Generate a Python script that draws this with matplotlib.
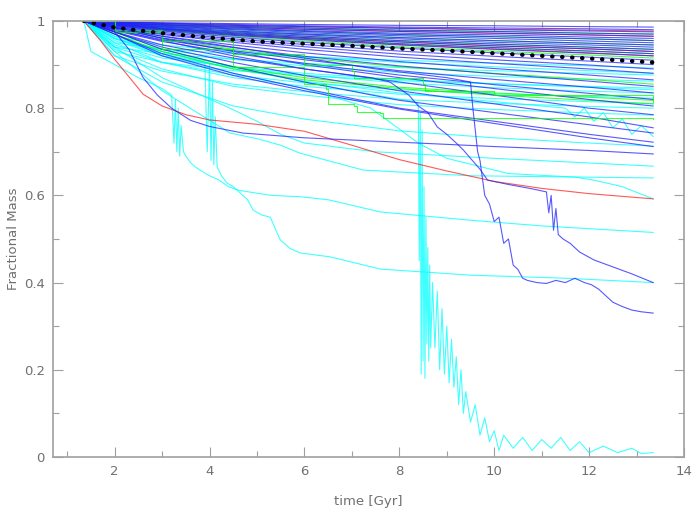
"""Fractional mass of satellites vs time: recreated line chart."""

import matplotlib

matplotlib.use("Agg")
import matplotlib.pyplot as plt
from matplotlib.ticker import MultipleLocator, FormatStrFormatter


# common coarse time grid for the bundle lines (Gyr)
T_GRID = [1.35, 2.0, 3.0, 4.5, 6.0, 8.0, 10.0, 12.0, 13.35]

BLUE_ROWS = [
    [1, .998, .996, .994, .992, .990, .989, .987, .986],
    [1, .998, .995, .992, .989, .986, .984, .982, .980],
    [1, .997, .994, .990, .987, .983, .980, .977, .975],
    [1, .996, .992, .988, .984, .979, .976, .972, .970],
    [1, .996, .991, .986, .981, .976, .972, .968, .965],
    [1, .995, .990, .984, .978, .972, .968, .963, .960],
    [1, .995, .988, .982, .976, .969, .964, .959, .955],
    [1, .994, .987, .980, .973, .966, .960, .954, .950],
    [1, .993, .986, .977, .970, .962, .955, .949, .945],
    [1, .993, .984, .975, .968, .959, .951, .945, .940],
    [1, .992, .983, .973, .965, .955, .947, .940, .935],
    [1, .992, .982, .971, .962, .952, .943, .936, .930],
    [1, .991, .981, .969, .960, .948, .939, .931, .925],
    [1, .990, .979, .967, .957, .945, .935, .926, .920],
    [1, .989, .977, .963, .951, .938, .927, .917, .910],
    [1, .988, .974, .959, .946, .931, .919, .908, .900],
    [1, .987, .971, .955, .941, .924, .911, .899, .890],
    [1, .986, .969, .951, .935, .917, .903, .890, .880],
    [1, .984, .965, .945, .927, .907, .891, .876, .865],
    [1, .982, .961, .939, .919, .897, .879, .862, .850],
    [1, .980, .957, .932, .911, .886, .866, .848, .835],
    [1, .978, .953, .926, .903, .876, .854, .834, .820],
    [1, .985, .960, .930, .900, .870, .845, .820, .805],
    [1, .980, .955, .920, .890, .860, .830, .800, .785],
    [1, .975, .940, .905, .875, .840, .810, .780, .755],
    [1, .975, .935, .895, .860, .818, .790, .762, .743],
    [1, .970, .925, .880, .845, .800, .770, .740, .722],
    [1, .970, .920, .875, .840, .798, .765, .732, .712],
]

GREEN_ROWS = [
    [1, .996, .992, .988, .984, .979, .976, .972, .970],
    [1, .995, .989, .982, .976, .969, .964, .959, .955],
    [1, .993, .986, .977, .970, .962, .955, .949, .945],
    [1, .992, .983, .973, .965, .955, .947, .940, .935],
    [1, .991, .981, .969, .960, .948, .939, .931, .925],
    [1, .990, .978, .965, .954, .941, .931, .922, .915],
    [1, .985, .960, .935, .915, .895, .880, .866, .855],
    [1, .975, .935, .895, .870, .848, .835, .825, .818],
    [1, .970, .930, .890, .865, .845, .830, .818, .810],
]

RED_ROWS = [
    [1, .997, .994, .990, .987, .984, .981, .979, .977],
    [1, .996, .991, .986, .981, .976, .972, .968, .965],
    [1, .992, .982, .971, .962, .952, .943, .936, .930],
    [1, .991, .980, .968, .958, .946, .936, .927, .920],
]

CYAN_ROWS = [
    [1, .950, .935, .925, .918, .910, .903, .897, .892],
    [1, .940, .925, .912, .903, .893, .886, .880, .876],
    [1, .960, .935, .912, .897, .882, .873, .866, .862],
    [1, .930, .905, .886, .875, .863, .856, .850, .846],
    [1, .955, .920, .893, .876, .858, .847, .839, .835],
    [1, .940, .905, .876, .858, .842, .833, .827, .823],
    [1, .950, .905, .870, .850, .832, .822, .815, .810],
    [1, .920, .885, .855, .838, .820, .811, .804, .800],
    [1, .935, .890, .850, .830, .808, .797, .789, .784],
    [1, .920, .860, .805, .775, .748, .732, .720, .713],
    [1, .965, .945, .930, .918, .905, .895, .886, .880],
    [1, .945, .915, .895, .880, .866, .856, .848, .842],
]

# individual lines
CYAN_667_T = [1.35, 2.0, 3.0, 4.43, 5.0, 5.5, 6.0, 7.5, 10.0, 13.35]
CYAN_667_Y = [1, .94, .87, .80, .77, .74, .72, .70, .685, .667]

CYAN_640_T = [1.35, 2.0, 3.0, 4.43, 5.0, 5.5, 5.9, 7.24, 9.5, 13.35]
CYAN_640_Y = [1, .93, .84, .743, .73, .715, .697, .658, .645, .640]

CYAN_592_T = [1.35, 2.0, 3.0, 4.5, 6.0, 7.4, 8.4, 9.0, 10.3, 11.7, 12.1, 12.7, 13.35]
CYAN_592_Y = [1, .96, .92, .88, .845, .80, .72, .685, .65, .642, .635, .62, .592]

CYAN_NOISY_T = [1.35, 2.0, 3.0, 4.5, 6.0, 8.0, 10.0, 11.5, 11.7, 11.9, 12.1,
                12.3, 12.5, 12.7, 12.9, 13.1, 13.35]
CYAN_NOISY_Y = [1, .96, .925, .89, .862, .835, .815, .80, .78, .80, .77,
                .79, .755, .775, .74, .76, .735]

CYAN_A_T = [1.35, 1.5, 2.0, 2.5, 3.0, 3.2, 3.25, 3.28, 3.31, 3.34, 3.37, 3.4,
            3.45, 3.5, 3.6, 3.7, 3.8, 4.0, 4.2, 4.4, 4.6, 5.0, 5.3, 5.9, 6.5,
            7.6, 9.5, 11.0, 13.35]
CYAN_A_Y = [1, .93, .90, .87, .845, .83, .72, .82, .70, .80, .69, .76,
            .70, .69, .675, .665, .658, .645, .635, .62, .612, .605, .60, .597, .59,
            .562, .543, .53, .515]

CYAN_B_T = [1.35, 2.0, 3.0, 3.9, 3.95, 4.0, 4.03, 4.06, 4.09, 4.12, 4.16, 4.25,
            4.37, 4.5, 4.65, 4.8, 4.92, 5.1, 5.28, 5.4, 5.49, 5.7, 5.91, 6.54,
            7.6, 9.5, 11.5, 13.35]
CYAN_B_Y = [1, .96, .93, .905, .70, .90, .68, .86, .67, .78, .665, .645,
            .628, .62, .605, .59, .566, .555, .55, .52, .498, .478, .468, .459,
            .431, .417, .41, .40]

CYAN_C_T = [1.35, 2.0, 3.0, 4.5, 6.0, 7.5, 8.3, 8.4,
            8.42, 8.44, 8.46, 8.48, 8.5, 8.52, 8.54, 8.56, 8.58, 8.6, 8.62, 8.64, 8.66,
            8.7, 8.75, 8.8, 8.85, 8.9, 8.95, 9.0, 9.05, 9.1, 9.15, 9.2, 9.25, 9.3,
            9.35, 9.4, 9.5, 9.6, 9.7, 9.8, 9.9, 10.0, 10.1, 10.2, 10.4, 10.6, 10.8,
            11.0, 11.2, 11.4, 11.6, 11.8, 12.0, 12.3, 12.6, 12.9, 13.1, 13.35]
CYAN_C_Y = [1, .965, .93, .895, .86, .83, .815, .81,
            .45, .79, .19, .75, .22, .62, .18, .55, .26, .48, .22, .44, .25,
            .40, .25, .38, .20, .34, .19, .30, .17, .27, .16, .23, .12, .20,
            .10, .15, .08, .12, .05, .09, .035, .06, .015, .05, .02, .045, .015,
            .04, .02, .045, .015, .035, .01, .025, .01, .02, .008, .01]

BLUE_Q_T = [1.35, 2.0, 3.0, 4.5, 6.0, 7.5, 9.0, 9.5, 9.55, 9.6, 9.65, 9.7, 9.75,
            9.8, 9.9, 10.0, 10.1, 10.2, 10.3, 10.4, 10.5, 10.6, 10.7, 10.9, 11.1,
            11.3, 11.5, 11.7, 11.9, 12.05, 12.2, 12.35, 12.5, 12.7, 12.9, 13.1, 13.35]
BLUE_Q_Y = [1, .985, .965, .94, .915, .89, .87, .86, .80, .75, .70, .68, .64,
            .60, .58, .54, .55, .49, .50, .44, .43, .41, .405, .40, .398,
            .405, .40, .41, .40, .395, .385, .37, .355, .345, .337, .333, .33]

BLUE_P_T = [1.35, 2.0, 3.0, 4.5, 6.0, 7.4, 7.8, 8.0, 8.2, 8.4, 8.6, 8.8, 9.0,
            9.2, 9.35, 9.5, 9.7, 9.86, 10.3, 10.8, 11.1, 11.15, 11.2, 11.25, 11.3,
            11.35, 11.45, 11.6, 11.8, 12.1, 12.5, 12.9, 13.35]
BLUE_P_Y = [1, .975, .945, .915, .89, .87, .86, .845, .83, .805, .79, .757, .74,
            .72, .704, .685, .66, .635, .625, .615, .608, .56, .60, .52, .57,
            .51, .50, .49, .47, .452, .436, .42, .40]

BLUE_MAIN_T = [1.35, 2.0, 2.3, 2.6, 2.9, 3.2, 3.6, 4.0, 4.7, 6.0, 8.0, 10.0, 12.0, 13.35]
BLUE_MAIN_Y = [1, .975, .935, .87, .83, .80, .772, .758, .743, .732, .722, .712, .703, .695]

RED_MAIN_T = [1.35, 1.7, 2.0, 2.3, 2.6, 3.0, 3.5, 4.0, 4.5, 5.0, 6.0, 7.0, 8.0,
              9.0, 10.0, 11.0, 12.0, 13.35]
RED_MAIN_Y = [1, .955, .912, .872, .832, .805, .785, .773, .768, .763, .747, .715,
              .682, .656, .632, .616, .604, .592]

GREEN_STEP_T = [1.35, 2.0, 3.0, 4.5, 6.0, 6.45, 6.5, 7.05, 7.1, 7.6, 7.65, 13.35]
GREEN_STEP_Y = [1, .975, .935, .895, .855, .845, .81, .805, .792, .79, .778, .775]

GREEN_STEP2_T = [1.35, 2.0, 3.0, 4.5, 6.0, 7.0, 7.05, 8.5, 8.55, 10.0, 13.35]
GREEN_STEP2_Y = [1, .98, .955, .925, .90, .885, .87, .855, .84, .83, .815]

MEAN_T = [1.35, 2, 3, 4, 5, 6, 7, 8, 9, 10, 11, 12, 13.35]
MEAN_Y = [1.0, .985, .972, .962, .953, .948, .943, .937, .932, .926, .92, .914, .905]

BLUE = "#2020ff"
CYAN = "#00ffff"
GREEN = "#00ff00"
RED = "#ff2020"
AXIS_GREY = "#a0a0a0"
TEXT_GREY = "#707070"


def main():
    fig = plt.figure(figsize=(6.93, 5.18), dpi=100)
    ax = fig.add_axes([0.0765, 0.1178, 0.9105, 0.8417])
    kw = dict(linewidth=0.8, alpha=0.75)

    for row in CYAN_ROWS:
        ax.plot(T_GRID, row, color=CYAN, **kw)
    for t, y in [(CYAN_667_T, CYAN_667_Y), (CYAN_640_T, CYAN_640_Y),
                 (CYAN_592_T, CYAN_592_Y), (CYAN_NOISY_T, CYAN_NOISY_Y),
                 (CYAN_A_T, CYAN_A_Y), (CYAN_B_T, CYAN_B_Y), (CYAN_C_T, CYAN_C_Y)]:
        ax.plot(t, y, color=CYAN, **kw)

    ax.plot(RED_MAIN_T, RED_MAIN_Y, color=RED, **kw)
    for row in RED_ROWS:
        ax.plot(T_GRID, row, color=RED, **kw)

    # interleave blue and green in the dense top band
    for i, row in enumerate(BLUE_ROWS):
        ax.plot(T_GRID, row, color=BLUE, **kw)
        if i < len(GREEN_ROWS):
            ax.plot(T_GRID, GREEN_ROWS[i], color=GREEN, **kw)
    ax.plot(GREEN_STEP_T, GREEN_STEP_Y, color=GREEN, drawstyle="steps-post", **kw)
    ax.plot(GREEN_STEP2_T, GREEN_STEP2_Y, color=GREEN, drawstyle="steps-post", **kw)

    ax.plot(BLUE_Q_T, BLUE_Q_Y, color=BLUE, **kw)
    ax.plot(BLUE_P_T, BLUE_P_Y, color=BLUE, **kw)
    ax.plot(BLUE_MAIN_T, BLUE_MAIN_Y, color=BLUE, **kw)

    ax.plot(MEAN_T, MEAN_Y, color="black", linewidth=3.0,
            linestyle=(0, (0.1, 2.3)), dash_capstyle="round")

    ax.set_xlim(0.7, 14.0)
    ax.set_ylim(0.0, 1.0)
    ax.xaxis.set_major_locator(MultipleLocator(2))
    ax.xaxis.set_minor_locator(MultipleLocator(1))
    ax.yaxis.set_major_locator(MultipleLocator(0.2))
    ax.yaxis.set_minor_locator(MultipleLocator(0.1))
    ax.yaxis.set_major_formatter(FormatStrFormatter("%g"))
    ax.tick_params(which="both", direction="in", top=True, right=True,
                   color=AXIS_GREY, labelcolor=TEXT_GREY, labelsize=9.5, width=0.8)
    ax.tick_params(which="major", length=7, pad=6)
    ax.tick_params(which="minor", length=4)
    for spine in ax.spines.values():
        spine.set_color(AXIS_GREY)
        spine.set_linewidth(1.2)

    ax.set_xlabel("time [Gyr]", color=TEXT_GREY, fontsize=9.5, labelpad=12)
    ax.set_ylabel("Fractional Mass", color=TEXT_GREY, fontsize=9.5, labelpad=3)

    fig.savefig("out.png", dpi=100)
    plt.close(fig)


if __name__ == "__main__":
    main()
